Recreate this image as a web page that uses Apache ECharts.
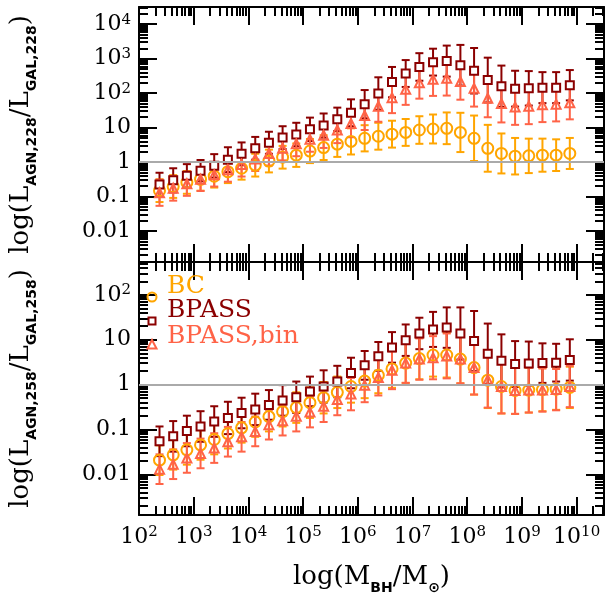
<!DOCTYPE html>
<html><head><meta charset="utf-8">
<script src="https://cdn.jsdelivr.net/npm/echarts@6/dist/echarts.min.js"></script>
<style>html,body{margin:0;padding:0;background:#fff}#c{width:613px;height:596px}</style>
</head><body><div id="c"></div>
<script>
// log10(M_BH / M_sun) bin centres
const logM = [2.375, 2.625, 2.875, 3.125, 3.375, 3.625, 3.875, 4.125, 4.375, 4.625, 4.875, 5.125, 5.375, 5.625, 5.875, 6.125, 6.375, 6.625, 6.875, 7.125, 7.375, 7.625, 7.875, 8.125, 8.375, 8.625, 8.875, 9.125, 9.375, 9.625, 9.875];

// top panel: log10(L_AGN,228 / L_GAL,228), central values and +/- error (dex)
const bc228 = [-0.83,-0.71,-0.59,-0.50,-0.41,-0.28,-0.18,-0.09,0.03,0.14,0.20,0.32,0.42,0.52,0.60,0.69,0.75,0.81,0.86,0.93,0.96,0.98,0.86,0.69,0.40,0.25,0.17,0.18,0.20,0.20,0.25];
const bc228Err = [0.33,0.33,0.33,0.33,0.33,0.33,0.33,0.33,0.33,0.33,0.34,0.35,0.36,0.37,0.38,0.38,0.39,0.39,0.39,0.40,0.42,0.46,0.57,0.66,0.68,0.58,0.53,0.50,0.48,0.46,0.45];
const bp228 = [-0.65,-0.53,-0.40,-0.25,-0.11,0.07,0.24,0.40,0.56,0.71,0.80,0.95,1.06,1.24,1.43,1.68,1.99,2.32,2.57,2.76,2.90,2.93,2.81,2.65,2.38,2.20,2.13,2.14,2.16,2.16,2.23];
const bp228Err = [0.34,0.35,0.34,0.31,0.34,0.36,0.33,0.33,0.32,0.33,0.34,0.34,0.35,0.34,0.39,0.41,0.47,0.44,0.39,0.40,0.39,0.45,0.59,0.66,0.65,0.60,0.52,0.50,0.45,0.45,0.44];
const bb228 = [-0.89,-0.76,-0.63,-0.50,-0.37,-0.22,-0.07,0.09,0.25,0.40,0.53,0.66,0.78,0.93,1.12,1.35,1.62,1.87,2.11,2.30,2.40,2.43,2.34,2.14,1.85,1.70,1.60,1.62,1.66,1.68,1.72];
const bb228Err = [0.38,0.36,0.35,0.34,0.34,0.35,0.35,0.35,0.35,0.35,0.36,0.36,0.37,0.38,0.40,0.42,0.45,0.45,0.45,0.46,0.48,0.50,0.53,0.53,0.55,0.55,0.52,0.52,0.50,0.50,0.48];

// bottom panel: log10(L_AGN,258 / L_GAL,258)
const bc258 = [-1.68,-1.56,-1.45,-1.34,-1.22,-1.09,-0.96,-0.83,-0.71,-0.60,-0.51,-0.40,-0.29,-0.17,-0.04,0.08,0.21,0.35,0.48,0.58,0.66,0.66,0.57,0.38,0.10,-0.04,-0.13,-0.12,-0.11,-0.10,-0.06];
const bc258Err = [0.33,0.33,0.33,0.33,0.33,0.33,0.33,0.33,0.33,0.33,0.34,0.34,0.35,0.35,0.36,0.38,0.40,0.42,0.44,0.46,0.48,0.50,0.54,0.60,0.62,0.60,0.52,0.50,0.48,0.46,0.46];
const bp258 = [-1.26,-1.15,-1.03,-0.93,-0.82,-0.74,-0.63,-0.55,-0.45,-0.35,-0.28,-0.15,-0.04,0.07,0.26,0.43,0.63,0.83,0.99,1.14,1.23,1.27,1.14,0.97,0.69,0.53,0.46,0.47,0.48,0.49,0.55];
const bp258Err = [0.33,0.34,0.34,0.34,0.34,0.36,0.34,0.35,0.33,0.34,0.35,0.33,0.36,0.35,0.34,0.32,0.32,0.34,0.35,0.35,0.39,0.45,0.58,0.67,0.67,0.59,0.51,0.49,0.44,0.42,0.46];
const bb258 = [-1.88,-1.77,-1.63,-1.53,-1.41,-1.27,-1.16,-1.04,-0.89,-0.80,-0.70,-0.61,-0.48,-0.33,-0.21,-0.01,0.16,0.32,0.48,0.57,0.60,0.64,0.57,0.38,0.11,-0.04,-0.13,-0.12,-0.12,-0.11,-0.04];
const bb258Err = [0.33,0.33,0.33,0.33,0.33,0.33,0.33,0.33,0.33,0.33,0.34,0.34,0.35,0.35,0.36,0.38,0.40,0.42,0.44,0.46,0.48,0.50,0.54,0.60,0.62,0.60,0.52,0.50,0.48,0.46,0.46];

// major tick positions (log10 values)
const xTicks = [2, 3, 4, 5, 6, 7, 8, 9, 10];
const yTicksTop = [-2, -1, 0, 1, 2, 3, 4];
const yTicksBot = [-2, -1, 0, 1, 2];

const seriesNames = ['BC', 'BPASS', 'BPASS,bin'];
const colors = ['#FFA500', '#8B0000', '#FF6347'];

const FONT = 'DejaVu Serif';
const X_RANGE = [2, 10.5];
const Y_TOP = [-2.9, 4.5];
const Y_BOT = [-2.9, 2.73];
const GRIDS = [
  {left: 133, top: 7, width: 471, height: 255},
  {left: 133, top: 262, width: 471, height: 255}
];

function minorOf(majors, range) {
  const out = [];
  for (let n = majors[0] - 1; n <= majors[majors.length - 1]; n++) {
    for (let k = 2; k <= 9; k++) {
      const v = n + Math.log10(k);
      if (v > range[0] + 1e-6 && v < range[1] - 1e-6) out.push(v);
    }
  }
  return out;
}

function yLabel(v) {
  v = Math.round(v);
  if (v === -2) return '0.01';
  if (v === -1) return '0.1';
  if (v === 0) return '1';
  if (v === 1) return '10';
  return '10{sup|' + v + '}';
}
function xLabel(v) { return '10{sup|' + Math.round(v) + '}'; }

const labelRich = {sup: {fontFamily: FONT, fontSize: 15, verticalAlign: 'top', lineHeight: 14, color: '#000'}};
const subRich = {
  m: {fontFamily: FONT, fontSize: 26, lineHeight: 36, verticalAlign: 'middle', color: '#000'},
  s: {fontFamily: 'DejaVu Sans', fontWeight: 'bold', fontSize: 14, lineHeight: 14, verticalAlign: 'bottom', color: '#000'}
};

function mkAxis(kind, gridIndex, position, range, ticks, len, showLine, extra) {
  return Object.assign({
    type: 'value', gridIndex, position, min: range[0], max: range[1],
    axisLine: {show: showLine, onZero: false, lineStyle: {color: '#000', width: 2}},
    axisTick: {show: true, inside: true, length: len, customValues: ticks, lineStyle: {color: '#000', width: 2}},
    axisLabel: {show: false},
    splitLine: {show: false},
    silent: true
  }, extra || {});
}

const xMinor = minorOf(xTicks, X_RANGE);
const xAxes = [];
const yAxes = [];
const yRanges = [Y_TOP, Y_BOT];
const yMajors = [yTicksTop, yTicksBot];
for (let g = 0; g < 2; g++) {
  const bottomExtra = g === 1 ? {
    axisLabel: {show: true, customValues: xTicks, formatter: xLabel, margin: 10, fontFamily: FONT, fontSize: 22, color: '#000', lineHeight: 24, rich: labelRich},
    name: '{m|log(M}{s|BH}{m|/M}{s|⊙}{m|)}', nameLocation: 'middle', nameGap: 44,
    nameTextStyle: {rich: subRich}
  } : {};
  xAxes.push(mkAxis('x', g, 'bottom', X_RANGE, xTicks, 18, true, bottomExtra));
  xAxes.push(mkAxis('x', g, 'bottom', X_RANGE, xMinor, 9, false));
  xAxes.push(mkAxis('x', g, 'top', X_RANGE, xTicks, 18, true));
  xAxes.push(mkAxis('x', g, 'top', X_RANGE, xMinor, 9, false));

  const yr = yRanges[g], ym = yMajors[g];
  const yMinor = minorOf(ym, yr);
  const nm = g === 0 ? '{m|log(L}{s|AGN,228}{m|/L}{s|GAL,228}{m|)}' : '{m|log(L}{s|AGN,258}{m|/L}{s|GAL,258}{m|)}';
  yAxes.push(mkAxis('y', g, 'left', yr, ym, 18, true, {
    axisLabel: {show: true, customValues: ym, formatter: yLabel, margin: 8, fontFamily: FONT, fontSize: 22, color: '#000', lineHeight: 24, rich: labelRich},
    name: nm, nameLocation: 'middle', nameGap: 100, nameTextStyle: {rich: subRich}
  }));
  yAxes.push(mkAxis('y', g, 'left', yr, yMinor, 9, false));
  yAxes.push(mkAxis('y', g, 'right', yr, ym, 18, true));
  yAxes.push(mkAxis('y', g, 'right', yr, yMinor, 9, false));
}

function errSeries(g, vals, errs, color) {
  return {
    type: 'custom', xAxisIndex: g * 4, yAxisIndex: g * 4, silent: true, z: 3,
    data: logM.map((x, i) => [x, vals[i] - errs[i], vals[i] + errs[i]]),
    encode: {x: 0, y: [1, 2]},
    renderItem: function (params, api) {
      const x = api.value(0), lo = api.value(1), hi = api.value(2);
      const a = api.coord([x, hi]), b = api.coord([x, lo]);
      const w = 4;
      const st = {stroke: color, lineWidth: 2};
      return {type: 'group', children: [
        {type: 'line', shape: {x1: a[0], y1: a[1], x2: b[0], y2: b[1]}, style: st},
        {type: 'line', shape: {x1: a[0] - w, y1: a[1], x2: a[0] + w, y2: a[1]}, style: st},
        {type: 'line', shape: {x1: b[0] - w, y1: b[1], x2: b[0] + w, y2: b[1]}, style: st}
      ]};
    }
  };
}
const symbols = ['circle', 'rect', 'triangle'];
const symSizes = [11, 8, 9];
const fills = ['rgba(0,0,0,0)', '#ffffff', 'rgba(0,0,0,0)'];
function ptSeries(g, k, vals) {
  return {
    type: 'scatter', name: seriesNames[k], xAxisIndex: g * 4, yAxisIndex: g * 4, silent: true, z: 3,
    symbol: symbols[k], symbolSize: symSizes[k],
    itemStyle: {color: fills[k], borderColor: colors[k], borderWidth: 2, opacity: 1},
    data: logM.map((x, i) => [x, vals[i]])
  };
}

const panels = [
  [[bc228, bc228Err], [bp228, bp228Err], [bb228, bb228Err]],
  [[bc258, bc258Err], [bp258, bp258Err], [bb258, bb258Err]]
];
const series = [];
for (let g = 0; g < 2; g++) {
  series.push({
    type: 'line', xAxisIndex: g * 4, yAxisIndex: g * 4, data: [], z: 1, silent: true,
    markLine: {silent: true, symbol: 'none', label: {show: false}, animation: false,
      lineStyle: {color: '#aaaaaa', width: 2, type: 'solid'}, data: [{yAxis: 0}]}
  });
  for (let k = 0; k < 3; k++) {
    series.push(errSeries(g, panels[g][k][0], panels[g][k][1], colors[k]));
    series.push(ptSeries(g, k, panels[g][k][0]));
  }
}

const legendY = [289, 313, 339];
const legendMarkY = [297, 321, 345];
const graphic = [];
for (let k = 0; k < 3; k++) {
  graphic.push({type: 'text', left: 167, top: legendY[k] - 15, z: 10, silent: true,
    style: {text: seriesNames[k], fill: colors[k], font: '25px "DejaVu Serif"'}});
}
graphic.push({type: 'circle', shape: {cx: 152, cy: legendMarkY[0], r: 4.5}, style: {fill: 'none', stroke: colors[0], lineWidth: 2}, z: 10, silent: true});
graphic.push({type: 'rect', shape: {x: 148.5, y: legendMarkY[1] - 3.5, width: 7, height: 7}, style: {fill: 'none', stroke: colors[1], lineWidth: 2}, z: 10, silent: true});
graphic.push({type: 'polygon', shape: {points: [[152, legendMarkY[2] - 5], [156.5, legendMarkY[2] + 3.5], [147.5, legendMarkY[2] + 3.5]]}, style: {fill: 'none', stroke: colors[2], lineWidth: 2}, z: 10, silent: true});

const chart = echarts.init(document.getElementById('c'), null, {renderer: 'canvas'});
chart.setOption({
  animation: false,
  backgroundColor: '#ffffff',
  grid: GRIDS,
  xAxis: xAxes,
  yAxis: yAxes,
  series: series,
  graphic: graphic
});
</script></body></html>
